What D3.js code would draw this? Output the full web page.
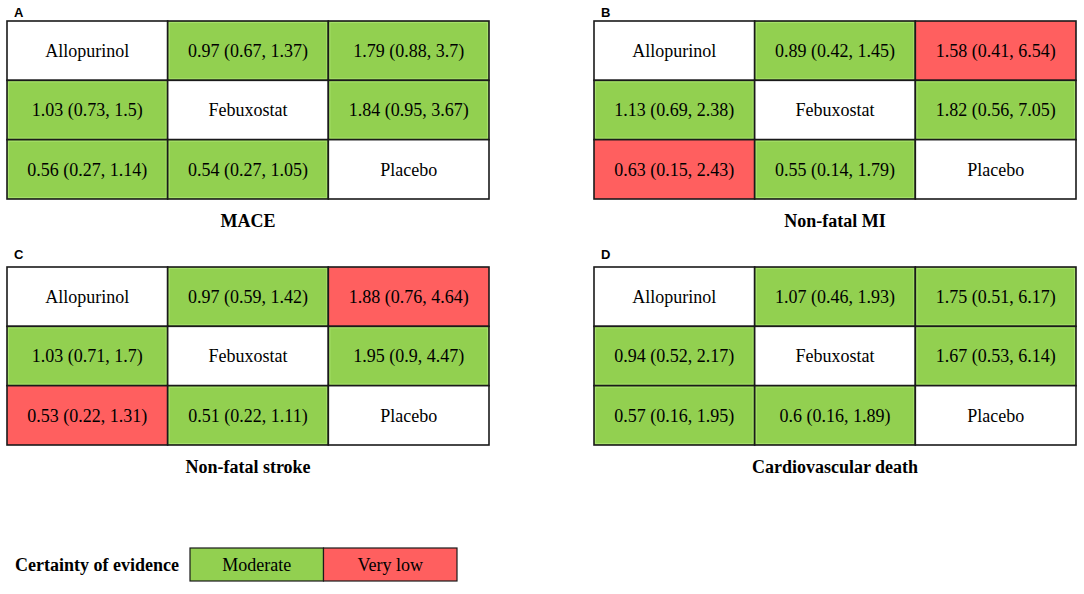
<!DOCTYPE html>
<html>
<head>
<meta charset="utf-8">
<script src="https://cdn.jsdelivr.net/npm/d3@7"></script>
<style>
  body { margin: 0; background: #fff; }
</style>
</head>
<body>
<div id="chart"></div>
<script>
// Data
const drugs = ["Allopurinol", "Febuxostat", "Placebo"];
const panelLetters = ["A", "B", "C", "D"];
const panelTitles = ["MACE", "Non-fatal MI", "Non-fatal stroke", "Cardiovascular death"];

// row-major 3x3, diagonal = drug name
const maceValues = [
    [null, "0.97 (0.67, 1.37)", "1.79 (0.88, 3.7)"],
    ["1.03 (0.73, 1.5)", null, "1.84 (0.95, 3.67)"],
    ["0.56 (0.27, 1.14)", "0.54 (0.27, 1.05)", null]
];
const miValues = [
    [null, "0.89 (0.42, 1.45)", "1.58 (0.41, 6.54)"],
    ["1.13 (0.69, 2.38)", null, "1.82 (0.56, 7.05)"],
    ["0.63 (0.15, 2.43)", "0.55 (0.14, 1.79)", null]
];
const strokeValues = [
    [null, "0.97 (0.59, 1.42)", "1.88 (0.76, 4.64)"],
    ["1.03 (0.71, 1.7)", null, "1.95 (0.9, 4.47)"],
    ["0.53 (0.22, 1.31)", "0.51 (0.22, 1.11)", null]
];
const deathValues = [
    [null, "1.07 (0.46, 1.93)", "1.75 (0.51, 6.17)"],
    ["0.94 (0.52, 2.17)", null, "1.67 (0.53, 6.14)"],
    ["0.57 (0.16, 1.95)", "0.6 (0.16, 1.89)", null]
];

// certainty of evidence: M = Moderate, V = Very low
const maceCertainty   = [[null, "M", "M"], ["M", null, "M"], ["M", "M", null]];
const miCertainty     = [[null, "M", "V"], ["M", null, "M"], ["V", "M", null]];
const strokeCertainty = [[null, "M", "V"], ["M", null, "M"], ["V", "M", null]];
const deathCertainty  = [[null, "M", "M"], ["M", null, "M"], ["M", "M", null]];

const certaintyLevels = ["M", "V"];
const certaintyLabels = ["Moderate", "Very low"];

const allValues = [maceValues, miValues, strokeValues, deathValues];
const allCertainty = [maceCertainty, miCertainty, strokeCertainty, deathCertainty];

// Layout
const W = 1084, H = 594;
const gridW = 482, gridH = 178;
const origins = [[7, 21], [594, 21], [7, 267], [594, 267]];
const letterY = [17, 17, 259, 259];

const color = d3.scaleOrdinal()
    .domain(certaintyLevels)
    .range(["#92D050", "#FF5F5F"]);

const serif = "'Liberation Serif', 'Times New Roman', serif";

const svg = d3.select("#chart")
    .append("svg")
    .attr("width", W)
    .attr("height", H);

const x = d3.scaleBand().domain(d3.range(3)).range([0, gridW]);
const y = d3.scaleBand().domain(d3.range(3)).range([0, gridH]);

allValues.forEach((vals, p) => {
    const [ox, oy] = origins[p];
    const g = svg.append("g").attr("transform", `translate(${ox},${oy})`);

    // build cells
    const cells = [];
    vals.forEach((row, r) => row.forEach((v, c) => {
        cells.push({
            r, c,
            text: r === c ? drugs[r] : v,
            cert: allCertainty[p][r][c]
        });
    }));

    const cell = g.selectAll("g.cell")
        .data(cells)
        .enter()
        .append("g")
        .attr("class", "cell")
        .attr("transform", d => `translate(${x(d.c)},${y(d.r)})`);

    cell.append("rect")
        .attr("width", x.bandwidth())
        .attr("height", y.bandwidth())
        .attr("fill", d => d.cert ? color(d.cert) : "#fff");

    // lighter inner edge on green cells
    cell.filter(d => d.cert === "M")
        .append("rect")
        .attr("x", 1.5)
        .attr("y", 1.5)
        .attr("width", x.bandwidth() - 3)
        .attr("height", y.bandwidth() - 3)
        .attr("fill", "none")
        .attr("stroke", "#A6E06A")
        .attr("stroke-width", 1.2);

    cell.append("rect")
        .attr("width", x.bandwidth())
        .attr("height", y.bandwidth())
        .attr("fill", "none")
        .attr("stroke", "#1a1a1a")
        .attr("stroke-width", 1.6);

    cell.append("text")
        .attr("x", x.bandwidth() / 2)
        .attr("y", y.bandwidth() / 2)
        .attr("dy", "0.35em")
        .attr("text-anchor", "middle")
        .style("font-family", serif)
        .style("font-size", "18px")
        .style("fill", "#000")
        .text(d => d.text);

    // panel title
    g.append("text")
        .attr("x", gridW / 2)
        .attr("y", gridH + 28)
        .attr("text-anchor", "middle")
        .style("font-family", serif)
        .style("font-size", "18px")
        .style("font-weight", "bold")
        .text(panelTitles[p]);

    // panel letter
    svg.append("text")
        .attr("x", ox + 7)
        .attr("y", letterY[p])
        .style("font-family", "'Liberation Sans', Arial, sans-serif")
        .style("font-size", "13px")
        .style("font-weight", "bold")
        .text(panelLetters[p]);
});

// Legend
const legend = svg.append("g").attr("transform", "translate(0,548)");
const lx = d3.scaleBand().domain(certaintyLevels).range([190, 457]);

legend.append("text")
    .attr("x", 15)
    .attr("y", 16.5)
    .attr("dy", "0.35em")
    .style("font-family", serif)
    .style("font-size", "18px")
    .style("font-weight", "bold")
    .text("Certainty of evidence");

const item = legend.selectAll("g.item")
    .data(certaintyLevels)
    .enter()
    .append("g")
    .attr("class", "item")
    .attr("transform", d => `translate(${lx(d)},0)`);

item.append("rect")
    .attr("width", lx.bandwidth())
    .attr("height", 33)
    .attr("fill", d => color(d))
    .attr("stroke", "#1a1a1a")
    .attr("stroke-width", 1.2);

item.append("text")
    .attr("x", lx.bandwidth() / 2)
    .attr("y", 16.5)
    .attr("dy", "0.35em")
    .attr("text-anchor", "middle")
    .style("font-family", serif)
    .style("font-size", "18px")
    .text((d, i) => certaintyLabels[i]);
</script>
</body>
</html>
